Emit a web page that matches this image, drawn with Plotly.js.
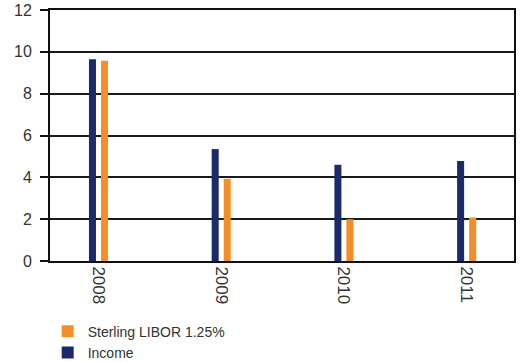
<!DOCTYPE html>
<html>
<head>
<meta charset="utf-8">
<script src="https://cdn.plot.ly/plotly-3.0.1.min.js"></script>
<style>html,body{margin:0;padding:0;background:#fff;}#chart{width:520px;height:362px;}</style>
</head>
<body>
<div id="chart"></div>
<script>
var years = ['2008', '2009', '2010', '2011'];
var income = [9.65, 5.35, 4.6, 4.78];
var libor = [9.57, 3.93, 2.0, 2.08];
var yTicks = [0, 2, 4, 6, 8, 10, 12];

var traces = [
  {type: 'bar', name: 'Income', x: years, y: income, marker: {color: '#1b2a6a'}},
  {type: 'bar', name: 'Sterling LIBOR 1.25%', x: years, y: libor, marker: {color: '#f68e27'}}
];

var layout = {
  width: 520, height: 362,
  margin: {l: 50, r: 6, t: 10, b: 101, autoexpand: false},
  paper_bgcolor: '#fff', plot_bgcolor: '#fff',
  font: {family: 'Liberation Sans, Arial, sans-serif', color: '#333', size: 15},
  barmode: 'group', bargap: 0.804, bargroupgap: 0.417,
  showlegend: true,
  legend: {x: -0.005, y: 0.128, xref: 'paper', yref: 'container', xanchor: 'left', yanchor: 'top', traceorder: 'reversed',
           font: {size: 14, color: '#333'}, tracegroupgap: 0, itemwidth: 30, bgcolor: 'rgba(0,0,0,0)'},
  xaxis: {type: 'category', range: [-0.395, 3.386], tickangle: 90, showline: true, mirror: true,
          linecolor: '#111', linewidth: 2, ticks: '', showgrid: false, tickfont: {size: 17}, fixedrange: true},
  yaxis: {range: [0, 12], tickvals: yTicks, showline: true, mirror: true, linecolor: '#111', linewidth: 2,
          ticks: 'outside', ticklen: 8, tickwidth: 2, tickcolor: '#111', gridcolor: '#1a1a1a', gridwidth: 2,
          ticklabelstandoff: 5, zeroline: false, tickfont: {size: 16}, fixedrange: true}
};

Plotly.newPlot('chart', traces, layout, {displayModeBar: false, staticPlot: true});
</script>
</body>
</html>
